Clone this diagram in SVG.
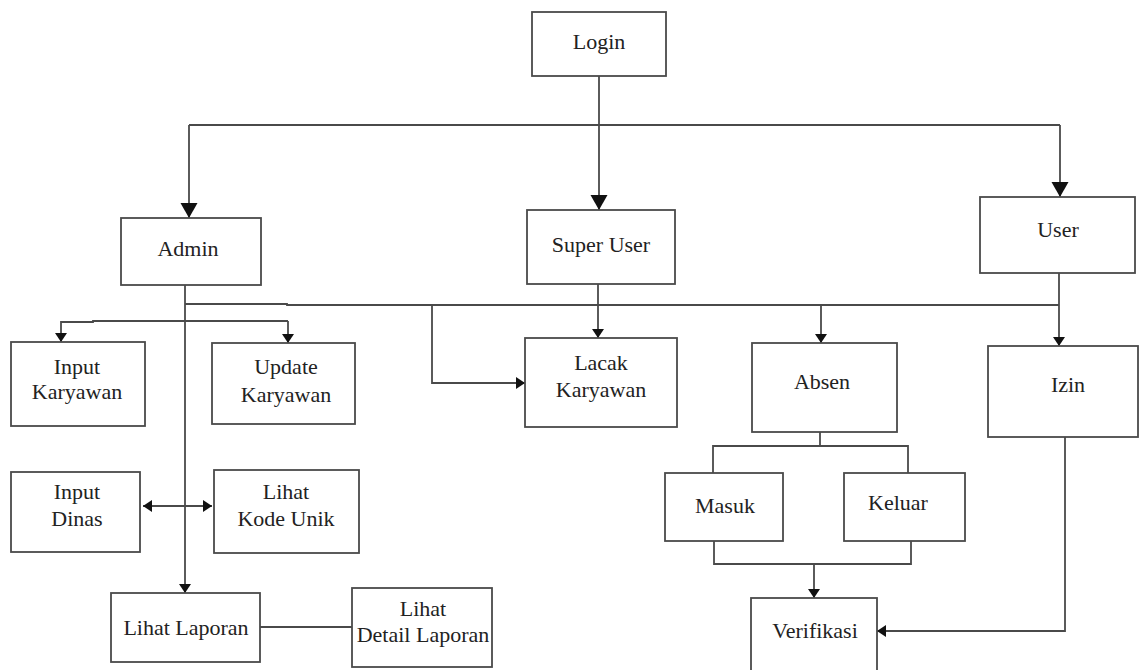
<svg xmlns="http://www.w3.org/2000/svg" width="1139" height="670" viewBox="0 0 1139 670">
<style>
.box{fill:#fff;stroke:#4a4a4a;stroke-width:1.8}
.ln{fill:none;stroke:#4a4a4a;stroke-width:1.8}
.t{font-family:"Liberation Serif","Times New Roman",serif;font-size:22px;fill:#222;text-anchor:middle}
</style>
<defs>
<marker id="big" markerUnits="userSpaceOnUse" markerWidth="18" markerHeight="18" refX="15" refY="8.5" orient="auto">
<path d="M0,0 L15,8.5 L0,17 Z" fill="#111"/>
</marker>
<marker id="sm" markerUnits="userSpaceOnUse" markerWidth="10" markerHeight="14" refX="9" refY="7" orient="auto">
<path d="M0,1 L9,7 L0,13 Z" fill="#111"/>
</marker>
<marker id="smS" markerUnits="userSpaceOnUse" markerWidth="10" markerHeight="14" refX="9" refY="7" orient="auto-start-reverse">
<path d="M0,1 L9,7 L0,13 Z" fill="#111"/>
</marker>
</defs>
<rect width="1139" height="670" fill="#fff"/>
<g id="connectors">
<line class="ln" x1="599" y1="76" x2="599" y2="210" marker-end="url(#big)"/>
<line class="ln" x1="189" y1="125" x2="1060" y2="125"/>
<line class="ln" x1="189" y1="125" x2="189" y2="218" marker-end="url(#big)"/>
<line class="ln" x1="1060" y1="125" x2="1060" y2="197" marker-end="url(#big)"/>
<line class="ln" x1="185" y1="285" x2="185" y2="593" marker-end="url(#sm)"/>
<polyline class="ln" points="185,304 287,304 287,305 1059,305"/>
<line class="ln" x1="598" y1="284" x2="598" y2="338" marker-end="url(#sm)"/>
<line class="ln" x1="1059" y1="273" x2="1059" y2="346" marker-end="url(#sm)"/>
<line class="ln" x1="821" y1="305" x2="821" y2="343" marker-end="url(#sm)"/>
<polyline class="ln" points="432,305 432,383 525,383" marker-end="url(#sm)"/>
<polyline class="ln" points="61,342 61,322 93,322 93,321 288,321" marker-start="url(#smS)"/>
<line class="ln" x1="288" y1="321" x2="288" y2="343" marker-end="url(#sm)"/>
<line class="ln" x1="143" y1="506" x2="212" y2="506" marker-start="url(#smS)" marker-end="url(#sm)"/>
<line class="ln" x1="260" y1="627" x2="352" y2="627"/>
<line class="ln" x1="820" y1="432" x2="820" y2="446"/>
<polyline class="ln" points="713,473 713,446 908,446 908,473"/>
<polyline class="ln" points="714,541 714,564 911,564 911,541"/>
<line class="ln" x1="814" y1="564" x2="814" y2="598" marker-end="url(#sm)"/>
<polyline class="ln" points="1065,437 1065,631 877,631" marker-end="url(#sm)"/>
</g>
<g id="login"><rect class="box" x="532" y="12" width="134" height="64"/><text class="t" x="599" y="49">Login</text></g>
<g id="admin"><rect class="box" x="121" y="218" width="140" height="67"/><text class="t" x="188" y="256">Admin</text></g>
<g id="superuser"><rect class="box" x="527" y="210" width="148" height="74"/><text class="t" x="601" y="252">Super User</text></g>
<g id="user"><rect class="box" x="980" y="197" width="155" height="76"/><text class="t" x="1058" y="237">User</text></g>
<g id="inputkaryawan"><rect class="box" x="11" y="342" width="134" height="84"/><text class="t" x="77" y="374">Input</text><text class="t" x="77" y="399">Karyawan</text></g>
<g id="updatekaryawan"><rect class="box" x="212" y="343" width="143" height="81"/><text class="t" x="286" y="374">Update</text><text class="t" x="286" y="402">Karyawan</text></g>
<g id="lacakkaryawan"><rect class="box" x="525" y="338" width="152" height="89"/><text class="t" x="601" y="370">Lacak</text><text class="t" x="601" y="397">Karyawan</text></g>
<g id="absen"><rect class="box" x="752" y="343" width="145" height="89"/><text class="t" x="822" y="389">Absen</text></g>
<g id="izin"><rect class="box" x="988" y="346" width="150" height="91"/><text class="t" x="1068" y="392">Izin</text></g>
<g id="inputdinas"><rect class="box" x="11" y="472" width="129" height="80"/><text class="t" x="77" y="499">Input</text><text class="t" x="77" y="526">Dinas</text></g>
<g id="lihatkodeunik"><rect class="box" x="214" y="470" width="145" height="83"/><text class="t" x="286" y="499">Lihat</text><text class="t" x="286" y="526">Kode Unik</text></g>
<g id="masuk"><rect class="box" x="665" y="473" width="118" height="68"/><text class="t" x="725" y="513">Masuk</text></g>
<g id="keluar"><rect class="box" x="844" y="473" width="121" height="68"/><text class="t" x="898" y="510">Keluar</text></g>
<g id="lihatlaporan"><rect class="box" x="111" y="593" width="149" height="69"/><text class="t" x="186" y="635">Lihat Laporan</text></g>
<g id="lihatdetaillaporan"><rect class="box" x="352" y="588" width="140" height="79"/><text class="t" x="423" y="616">Lihat</text><text class="t" x="423" y="642">Detail Laporan</text></g>
<g id="verifikasi"><rect class="box" x="751" y="598" width="126" height="80"/><text class="t" x="815" y="638">Verifikasi</text></g>
</svg>
